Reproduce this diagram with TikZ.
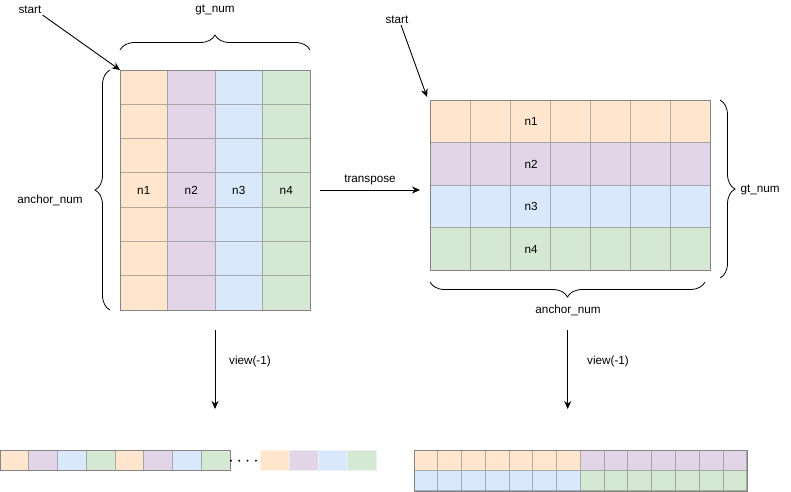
\documentclass[tikz,border=0pt]{standalone}
\usepackage{fontspec}
\setmainfont{Liberation Sans}
\usepackage{xcolor}
\usetikzlibrary{decorations.pathreplacing}
\usetikzlibrary{calc,arrows.meta}
\definecolor{cOrange}{HTML}{FFE6CC}
\definecolor{cPurple}{HTML}{E1D5E7}
\definecolor{cBlue}{HTML}{DAE8FC}
\definecolor{cGreen}{HTML}{D5E8D4}
\definecolor{frameline}{HTML}{858585}
\tikzset{
    cell/.style={fill=#1,draw=#1!40!gray,line width=0.8pt},
    ghostcell/.style={fill=#1,draw=#1!50!white,line width=0.8pt},
    frame/.style={draw=frameline,line width=1pt,inner sep=0pt,anchor=north west},
    lbl/.style={font=\fontsize{11.7}{14}\selectfont,inner sep=1pt},
    bracket/.style={decorate,decoration={brace,amplitude=15pt},line width=0.8pt},
    arr/.style={-{Stealth[length=8pt,width=7pt]},line width=0.9pt},
}

\begin{document}
\begin{tikzpicture}[x=1pt,y=-1pt]
        \useasboundingbox (0,0) rectangle (791,491);
        % gt_num x anchor_num
        \foreach \c/\col in {0/cOrange,1/cPurple,2/cBlue,3/cGreen}
            \foreach \r in {0,...,6}
                \draw[cell=\col] ({120+47.5*\c},{70+240/7*\r}) rectangle +(47.5,{240/7});
        \node[frame,minimum width=190pt,minimum height=240pt] (matA) at (120,70) {};
        \node[lbl] (a1) at (143.75,190.3) {n1};
        \node[lbl] (a2) at (191.25,190.3) {n2};
        \node[lbl] (a3) at (238.75,190.3) {n3};
        \node[lbl] (a4) at (286.25,190.3) {n4};
        \draw[bracket] (120,50)--(310,50);
        \draw[bracket] (110,310)--(110,70);
        \node[lbl] (gtA) at (215,10) {gt\_num};
        \node[lbl] (ancA) at (50,200) {anchor\_num};
        \node[lbl] (startA) at (30,10) {start};
        \draw[arr] (startA.south east)--(matA.north west);
        % transposed
        \foreach \r/\col in {0/cOrange,1/cPurple,2/cBlue,3/cGreen}
            \foreach \c in {0,...,6}
                \draw[cell=\col] ({430+40*\c},{100+42.5*\r}) rectangle +(40,42.5);
        \node[frame,minimum width=280pt,minimum height=170pt] (matB) at (430,100) {};
        \node[lbl] (b1) at (531,121.5) {n1};
        \node[lbl] (b2) at (531,164) {n2};
        \node[lbl] (b3) at (531,206.5) {n3};
        \node[lbl] (b4) at (531,249) {n4};
        \draw[bracket] (720,100)--(720,278);
        \draw[bracket] (705,282)--(430,282);
        \node[lbl] (gtB) at (760,190) {gt\_num};
        \node[lbl] (ancB) at (568,310) {anchor\_num};
        \node[lbl] (startB) at (397,20) {start};
        \draw[arr] ([xshift=4pt]startB.south)--([shift={(-3,-3)}]matB.north west);
        \coordinate (tpL) at (320,190);
        \coordinate (tpR) at (420,190);
        \draw[arr] (tpL)--node[lbl,above,yshift=4pt]{transpose}(tpR);
        % view(-1)
        \coordinate (vA0) at (215,330);
        \coordinate (vA1) at (215,409);
        \draw[arr] (vA0)--(vA1);
        \node[lbl] (viewA) at (250,361) {view(-1)};
        \coordinate (vB0) at (567.7,330);
        \coordinate (vB1) at (567.7,409);
        \draw[arr] (vB0)--(vB1);
        \node[lbl] (viewB) at (608,361) {view(-1)};
        % flat strips
        \foreach \c/\col in {0/cOrange,1/cPurple,2/cBlue,3/cGreen,4/cOrange,5/cPurple,6/cBlue,7/cGreen}
            \draw[cell=\col] ({28.75*\c},450) rectangle +(28.75,20);
        \node[frame,minimum width=230pt,minimum height=20pt] (flatA) at (0,450) {};
        \foreach \d in {0,...,3}
            \fill ({231+8.3*\d},460.7) circle (1.1);
        \foreach \c/\col in {0/cOrange,1/cPurple,2/cBlue,3/cGreen}
            \draw[ghostcell=\col] ({260+29*\c},450) rectangle +(29,20);
        \foreach \c in {0,...,6}{
            \draw[cell=cOrange] ({414+23.765*\c},450) rectangle +(23.765,20.3);
            \draw[cell=cPurple] ({580.35+23.765*\c},450) rectangle +(23.765,20.3);
            \draw[cell=cBlue] ({414+23.765*\c},470.3) rectangle +(23.765,20.3);
            \draw[cell=cGreen] ({580.35+23.765*\c},470.3) rectangle +(23.765,20.3);
        }
        \node[frame,minimum width=332.7pt,minimum height=40.6pt] (flatB) at (414,450) {};
    \end{tikzpicture}
\end{document}
